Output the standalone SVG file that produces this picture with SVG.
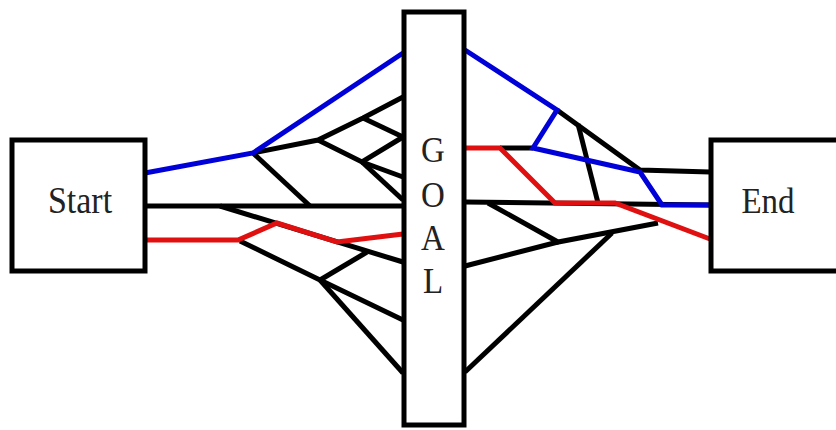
<svg xmlns="http://www.w3.org/2000/svg" width="836" height="430" viewBox="0 0 836 430">
<style>
.box{fill:#fff;stroke:#000;stroke-width:5}
.l{fill:none;stroke:#000;stroke-width:5;stroke-linejoin:miter;stroke-linecap:butt}
.b{fill:none;stroke:#0000d8;stroke-width:5}
.r{fill:none;stroke:#e01010;stroke-width:5}
text{font-family:'Liberation Serif','DejaVu Serif',serif;fill:#222;text-anchor:middle}
</style>
<g id="connectors">
<polyline class="l" points="253,153 318,140 363,118 403,97"/>
<polyline class="l" points="363,118 403,137"/>
<polyline class="l" points="318,140 362,162 403,137"/>
<polyline class="l" points="362,162 403,177"/>
<polyline class="l" points="362,162 403,200"/>
<polyline class="l" points="253,153 310,206"/>
<polyline class="l" points="145,206 403,206"/>
<polyline class="l" points="220,206 403,262"/>
<polyline class="l" points="240,241 320,280 403,320"/>
<polyline class="l" points="320,280 403,373"/>
<polyline class="l" points="320,280 367,252"/>
<polyline class="b" points="145,173 253,153 403,53"/>
<polyline class="r" points="145,240 238,240 277,223 337,242 403,234"/>
<polyline class="l" points="557,110 640,170 710,172"/>
<polyline class="l" points="578,124 598,203"/>
<polyline class="l" points="500,148 533,148"/>
<polyline class="l" points="465,202 710,205"/>
<polyline class="l" points="488,203 558,242 658,223"/>
<polyline class="l" points="465,266 558,242"/>
<polyline class="l" points="612,233 465,372"/>
<polyline class="b" points="465,50 557,110 533,148 640,172 662,205 710,205"/>
<polyline class="r" points="465,148 500,148 555,203 615,203 710,239"/>
</g>
<g id="start">
<rect class="box" x="12" y="140" width="133" height="131"/>
<text font-size="34" transform="translate(80,213) scale(1,1.1)">Start</text>
</g>
<g id="goal">
<rect class="box" x="404" y="12" width="60" height="413"/>
<text font-size="33" transform="translate(433,162) scale(1,1.1)">G</text>
<text font-size="33" transform="translate(433,207) scale(1,1.1)">O</text>
<text font-size="33" transform="translate(433,250) scale(1,1.1)">A</text>
<text font-size="33" transform="translate(433,293) scale(1,1.1)">L</text>
</g>
<g id="end">
<rect class="box" x="711" y="140" width="140" height="131"/>
<text font-size="33" transform="translate(768,213) scale(1,1.1)">End</text>
</g>
</svg>
